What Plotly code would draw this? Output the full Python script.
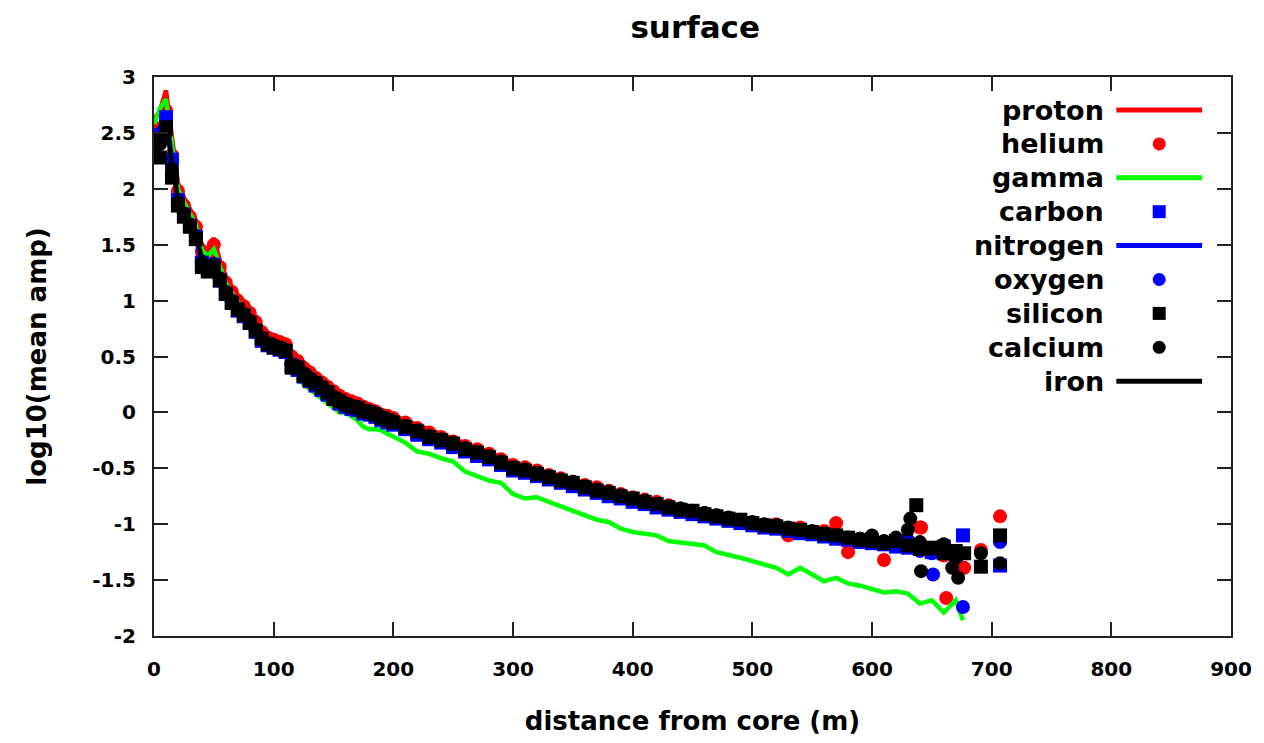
import plotly.graph_objects as go

# ---------------- data ----------------
dist = [0, 5, 10, 15, 20, 25, 30, 35, 40, 45,
        50, 55, 60, 65, 70, 75, 80, 85, 90, 95,
        100, 105, 110, 115, 120, 125, 130, 135, 140, 145,
        150, 155, 160, 165, 170, 175, 180, 185, 190, 195,
        200,
        210, 220, 230, 240, 250, 260, 270, 280, 290, 300,
        310, 320, 330, 340, 350, 360, 370, 380, 390, 400,
        410, 420, 430, 440, 450, 460, 470, 480, 490, 500,
        510, 520, 530, 540, 550, 560, 570, 580, 590, 600,
        610, 620, 630, 640, 650, 660, 670]

proton = [2.62, 2.70, 2.88, 2.45, 2.05, 1.92, 1.82, 1.72, 1.50, 1.45,
          1.56, 1.36, 1.22, 1.12, 1.05, 0.99, 0.93, 0.85, 0.76, 0.71,
          0.69, 0.67, 0.65, 0.55, 0.50, 0.44, 0.40, 0.35, 0.31, 0.26,
          0.22, 0.18, 0.15, 0.13, 0.11, 0.08, 0.06, 0.03, 0.01, -0.01,
          -0.03,
          -0.07, -0.12, -0.16, -0.20, -0.24, -0.28, -0.32, -0.35, -0.40, -0.45,
          -0.48, -0.51, -0.54, -0.57, -0.60, -0.63, -0.67, -0.70, -0.72, -0.75,
          -0.78, -0.80, -0.83, -0.86, -0.88, -0.90, -0.92, -0.94, -0.96, -0.98,
          -1.00, -1.02, -1.04, -1.06, -1.07, -1.09, -1.11, -1.13, -1.14, -1.16,
          -1.17, -1.19, -1.20, -1.21, -1.22, -1.26, -1.30]
proton_tail_x = [676]
proton_tail_y = [-1.38]

helium = [2.55, 2.50, 2.70, 2.30, 1.98, 1.85, 1.75, 1.66, 1.44, 1.38,
          1.50, 1.30, 1.16, 1.08, 1.00, 0.95, 0.89, 0.81, 0.72, 0.67,
          0.65, 0.63, 0.61, 0.50, 0.46, 0.40, 0.36, 0.31, 0.27, 0.23,
          0.19, 0.15, 0.12, 0.10, 0.08, 0.05, 0.03, 0.01, -0.02, -0.03,
          -0.05,
          -0.09, -0.14, -0.18, -0.22, -0.26, -0.30, -0.33, -0.37, -0.42, -0.47,
          -0.49, -0.52, -0.56, -0.59, -0.62, -0.65, -0.67, -0.70, -0.73, -0.76,
          -0.78, -0.80, -0.83, -0.86, -0.88, -0.90, -0.92, -0.95, -0.97, -0.99,
          -1.02, -1.00, -1.10, -1.03, -1.08, -1.06, -0.99, -1.25, -1.13, -1.16,
          -1.32, -1.15, -1.20, -1.03, -1.24, -1.28, -1.38]
helium_tail_x = [641, 662, 677, 691, 707]
helium_tail_y = [-1.03, -1.66, -1.39, -1.23, -0.93]

gamma = [2.58, 2.72, 2.80, 2.38, 2.00, 1.88, 1.78, 1.68, 1.45, 1.40,
         1.46, 1.30, 1.16, 1.07, 0.99, 0.93, 0.86, 0.78, 0.70, 0.64,
         0.61, 0.58, 0.55, 0.42, 0.34, 0.25, 0.21, 0.17, 0.13, 0.08,
         0.04, 0.00, 0.00, -0.03, -0.07, -0.13, -0.15, -0.15, -0.16, -0.19,
         -0.22,
         -0.27, -0.35, -0.37, -0.41, -0.44, -0.53, -0.57, -0.61, -0.63, -0.73,
         -0.77, -0.76, -0.80, -0.84, -0.87, -0.92, -0.96, -0.98, -1.04, -1.07,
         -1.08, -1.10, -1.15, -1.16, -1.17, -1.19, -1.25, -1.27, -1.30, -1.33,
         -1.36, -1.39, -1.45, -1.39, -1.45, -1.51, -1.48, -1.53, -1.55, -1.58,
         -1.61, -1.60, -1.62, -1.71, -1.68, -1.79, -1.68]
gamma_tail_x = [676]
gamma_tail_y = [-1.86]

carbon = [2.48, 2.45, 2.64, 2.26, 1.90, 1.77, 1.67, 1.57, 1.34, 1.27,
          1.32, 1.18, 1.06, 0.98, 0.91, 0.86, 0.80, 0.72, 0.64, 0.60,
          0.58, 0.56, 0.54, 0.42, 0.38, 0.32, 0.28, 0.24, 0.20, 0.16,
          0.12, 0.08, 0.05, 0.03, 0.02, -0.01, -0.02, -0.04, -0.07, -0.09,
          -0.11,
          -0.15, -0.20, -0.24, -0.27, -0.31, -0.35, -0.39, -0.42, -0.47, -0.52,
          -0.54, -0.57, -0.60, -0.63, -0.66, -0.69, -0.72, -0.75, -0.77, -0.80,
          -0.82, -0.85, -0.87, -0.89, -0.91, -0.93, -0.95, -0.97, -0.99, -1.01,
          -1.03, -1.04, -1.06, -1.08, -1.09, -1.11, -1.13, -1.14, -1.16, -1.17,
          -1.18, -1.20, -1.21, -1.22, -1.25, -1.20, -1.27]
carbon_tail_x = [676, 707]
carbon_tail_y = [-1.10, -1.37]

nitrogen = [2.50, 2.55, 2.66, 2.28, 1.89, 1.76, 1.66, 1.56, 1.33, 1.26,
            1.31, 1.17, 1.05, 0.97, 0.90, 0.85, 0.79, 0.71, 0.63, 0.59,
            0.57, 0.55, 0.53, 0.41, 0.37, 0.31, 0.27, 0.23, 0.19, 0.15,
            0.11, 0.07, 0.04, 0.02, 0.01, -0.02, -0.03, -0.05, -0.08, -0.10,
            -0.12,
            -0.16, -0.21, -0.25, -0.28, -0.32, -0.36, -0.40, -0.43, -0.48, -0.53,
            -0.55, -0.58, -0.61, -0.64, -0.67, -0.70, -0.73, -0.76, -0.78, -0.81,
            -0.83, -0.86, -0.88, -0.90, -0.92, -0.94, -0.96, -0.98, -1.00, -1.02,
            -1.04, -1.05, -1.07, -1.09, -1.10, -1.12, -1.14, -1.15, -1.17, -1.18,
            -1.19, -1.21, -1.22, -1.23, -1.26, -1.30, -1.28]
nitrogen_tail_x = [676]
nitrogen_tail_y = [-1.25]

oxygen = [2.46, 2.42, 2.62, 2.25, 1.90, 1.78, 1.68, 1.58, 1.35, 1.28,
          1.33, 1.19, 1.07, 0.99, 0.92, 0.87, 0.81, 0.73, 0.65, 0.61,
          0.59, 0.57, 0.55, 0.43, 0.39, 0.33, 0.29, 0.25, 0.21, 0.17,
          0.13, 0.09, 0.06, 0.04, 0.03, 0.00, -0.01, -0.03, -0.06, -0.08,
          -0.10,
          -0.14, -0.19, -0.23, -0.26, -0.30, -0.34, -0.38, -0.41, -0.46, -0.51,
          -0.53, -0.56, -0.59, -0.62, -0.65, -0.68, -0.71, -0.74, -0.76, -0.79,
          -0.81, -0.84, -0.86, -0.88, -0.90, -0.92, -0.94, -0.96, -0.98, -1.00,
          -1.02, -1.03, -1.05, -1.07, -1.08, -1.10, -1.12, -1.13, -1.15, -1.16,
          -1.17, -1.19, -1.14, -1.24, -1.26, -1.22, -1.30]
oxygen_tail_x = [651, 676, 707]
oxygen_tail_y = [-1.45, -1.74, -1.16]

silicon = [2.30, 2.28, 2.55, 2.10, 1.85, 1.75, 1.66, 1.55, 1.30, 1.26,
           1.28, 1.18, 1.06, 0.98, 0.92, 0.87, 0.80, 0.73, 0.66, 0.61,
           0.58, 0.57, 0.55, 0.40, 0.40, 0.33, 0.29, 0.26, 0.22, 0.18,
           0.12, 0.10, 0.07, 0.05, 0.04, 0.01, 0.00, -0.02, -0.05, -0.07,
           -0.09,
           -0.13, -0.17, -0.22, -0.25, -0.28, -0.33, -0.36, -0.40, -0.45, -0.50,
           -0.52, -0.55, -0.58, -0.61, -0.63, -0.67, -0.70, -0.72, -0.75, -0.77,
           -0.80, -0.82, -0.85, -0.87, -0.88, -0.91, -0.93, -0.95, -0.96, -0.99,
           -1.01, -1.02, -1.04, -1.05, -1.07, -1.09, -1.10, -1.12, -1.14, -1.15,
           -1.17, -1.15, -1.19, -1.22, -1.21, -1.26, -1.24]
silicon_tail_x = [637, 677, 691, 707]
silicon_tail_y = [-0.83, -1.26, -1.38, -1.10]

calcium = [2.45, 2.40, 2.50, 2.18, 1.88, 1.78, 1.68, 1.57, 1.34, 1.27,
           1.32, 1.20, 1.08, 1.00, 0.93, 0.88, 0.82, 0.74, 0.66, 0.62,
           0.60, 0.58, 0.56, 0.43, 0.41, 0.35, 0.31, 0.27, 0.23, 0.19,
           0.14, 0.11, 0.08, 0.06, 0.05, 0.02, 0.01, -0.01, -0.04, -0.06,
           -0.08,
           -0.12, -0.16, -0.21, -0.24, -0.27, -0.32, -0.35, -0.39, -0.44, -0.49,
           -0.51, -0.54, -0.57, -0.60, -0.62, -0.66, -0.69, -0.71, -0.74, -0.77,
           -0.79, -0.82, -0.84, -0.86, -0.88, -0.90, -0.92, -0.94, -0.96, -0.98,
           -1.00, -1.01, -1.03, -1.05, -1.06, -1.08, -1.10, -1.12, -1.13, -1.10,
           -1.15, -1.12, -1.05, -1.16, -1.22, -1.18, -1.30]
calcium_tail_x = [632, 641, 667, 672, 691, 707]
calcium_tail_y = [-0.95, -1.42, -1.39, -1.48, -1.26, -1.35]

iron = [2.40, 2.36, 2.60, 2.22, 1.92, 1.80, 1.70, 1.60, 1.38, 1.30,
        1.36, 1.22, 1.10, 1.02, 0.95, 0.90, 0.84, 0.76, 0.68, 0.63,
        0.61, 0.59, 0.57, 0.46, 0.42, 0.36, 0.32, 0.28, 0.24, 0.20,
        0.16, 0.12, 0.09, 0.07, 0.06, 0.03, 0.02, -0.01, -0.03, -0.05,
        -0.07,
        -0.11, -0.15, -0.20, -0.23, -0.27, -0.31, -0.35, -0.39, -0.44, -0.49,
        -0.51, -0.54, -0.57, -0.60, -0.62, -0.65, -0.68, -0.71, -0.73, -0.76,
        -0.78, -0.81, -0.83, -0.85, -0.87, -0.89, -0.91, -0.93, -0.95, -0.97,
        -0.99, -1.00, -1.02, -1.04, -1.05, -1.07, -1.09, -1.10, -1.12, -1.13,
        -1.14, -1.16, -1.17, -1.18, -1.20, -1.21, -1.22]
iron_tail_x = [676]
iron_tail_y = [-1.30]

x_ticks = [0, 100, 200, 300, 400, 500, 600, 700, 800, 900]
x_ticktext = ["0", "100", "200", "300", "400", "500", "600", "700", "800", "900"]
y_ticks = [-2, -1.5, -1, -0.5, 0, 0.5, 1, 1.5, 2, 2.5, 3]
y_ticktext = ["-2", "-1.5", "-1", "-0.5", "0", "0.5", "1", "1.5", "2", "2.5", "3"]

# series: name, y, tail x, tail y, color, kind, symbol
series = [
    ("proton", proton, proton_tail_x, proton_tail_y, "#ff0000", "line", None),
    ("helium", helium, helium_tail_x, helium_tail_y, "#ff0000", "marker", "circle"),
    ("gamma", gamma, gamma_tail_x, gamma_tail_y, "#00ff00", "line", None),
    ("carbon", carbon, carbon_tail_x, carbon_tail_y, "#0000ff", "marker", "square"),
    ("nitrogen", nitrogen, nitrogen_tail_x, nitrogen_tail_y, "#0000ff", "line", None),
    ("oxygen", oxygen, oxygen_tail_x, oxygen_tail_y, "#0000ff", "marker", "circle"),
    ("silicon", silicon, silicon_tail_x, silicon_tail_y, "#000000", "marker", "square"),
    ("calcium", calcium, calcium_tail_x, calcium_tail_y, "#000000", "marker", "circle"),
    ("iron", iron, iron_tail_x, iron_tail_y, "#000000", "line", None),
]

FONT = "DejaVu Sans"
fig = go.Figure()

for name, ys, tx, ty, col, kind, sym in series:
    xs = dist + tx
    yy = ys + ty
    if kind == "line":
        fig.add_trace(go.Scatter(x=xs, y=yy, mode="lines", name=name,
                                 line=dict(color=col, width=4.5), showlegend=False))
    else:
        fig.add_trace(go.Scatter(x=xs, y=yy, mode="markers", name=name,
                                 marker=dict(color=col, size=14, symbol=sym, line=dict(width=0)),
                                 showlegend=False))

# ---------------- manual gnuplot-style legend ----------------
L, R, T, B = 154, 1234, 77, 636
W, H = R - L, B - T
def px(x):
    return (x - L) / W
def py(y):
    return (B - y) / H

row0, row_step = 110, 33.9
text_right = 1109
line_x0, line_x1, mark_x = 1119, 1205, 1162
for i, (name, ys, tx, ty, col, kind, sym) in enumerate(series):
    yc = row0 + i * row_step
    fig.add_annotation(x=px(text_right), y=py(yc), xref="paper", yref="paper",
                       text=name, showarrow=False, xanchor="right", yanchor="middle",
                       font=dict(family=FONT, size=27, color="#000000", weight="bold"))
    if kind == "line":
        fig.add_shape(type="line", xref="paper", yref="paper",
                      x0=px(line_x0), x1=px(line_x1), y0=py(yc), y1=py(yc),
                      line=dict(color=col, width=5))
    else:
        fig.add_shape(type="circle" if sym == "circle" else "rect",
                      xref="paper", yref="paper",
                      xsizemode="pixel", ysizemode="pixel",
                      xanchor=px(mark_x), yanchor=py(yc),
                      x0=-6.5, x1=6.5, y0=-6.5, y1=6.5,
                      fillcolor=col, line=dict(width=0))

axis_common = dict(
    showgrid=False, zeroline=False, showline=True, linecolor="#222222", linewidth=2,
    mirror="allticks", ticks="inside", ticklen=14, tickwidth=2, tickcolor="#222222",
)

fig.update_layout(
    width=1264, height=743, autosize=False,
    margin=dict(l=L, r=1264 - R, t=T, b=743 - B),
    paper_bgcolor="white", plot_bgcolor="white",
    title=dict(text="surface", x=0.550, xanchor="center", y=1 - 27 / 743, yanchor="middle",
               font=dict(family=FONT, size=31, color="#000000", weight="bold")),
    xaxis=dict(range=[0, 900], tickvals=x_ticks, ticktext=x_ticktext,
               tickfont=dict(family=FONT, size=20, color="#000000", weight="bold"),
               ticklabelstandoff=14,
               title=dict(text="distance from core (m)", standoff=32,
                          font=dict(family=FONT, size=26, color="#000000", weight="bold")),
               **axis_common),
    yaxis=dict(range=[-2, 3], tickvals=y_ticks, ticktext=y_ticktext,
               tickfont=dict(family=FONT, size=20, color="#000000", weight="bold"),
               ticklabelstandoff=12,
               title=dict(text="log10(mean amp)", standoff=38,
                          font=dict(family=FONT, size=26, color="#000000", weight="bold")),
               **axis_common),
)

fig.write_html("out.html")
